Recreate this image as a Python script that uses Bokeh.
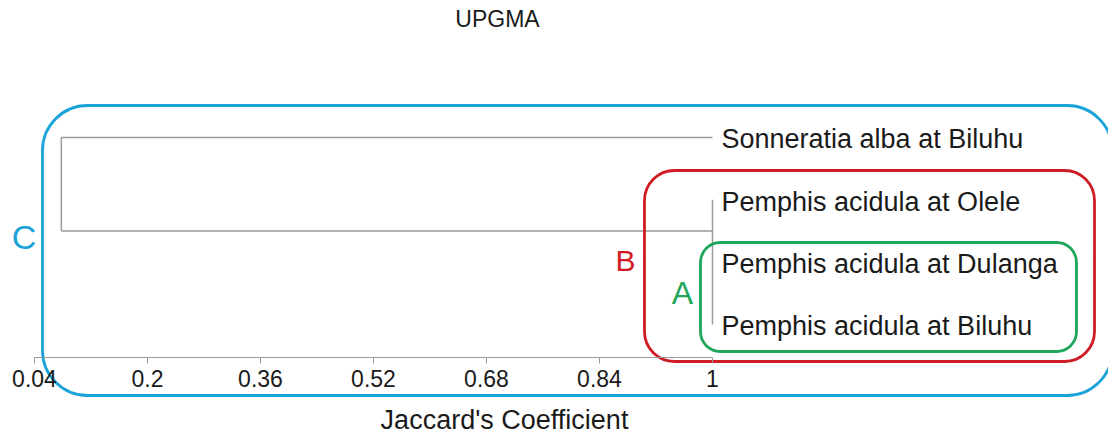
from bokeh.plotting import figure
from bokeh.models import Range1d, LinearAxis, FixedTicker, ColumnDataSource
from bokeh.core.properties import value
from bokeh.embed import file_html
from bokeh.resources import INLINE

# ---- data ----
title_text = "UPGMA"
x_label = "Jaccard's Coefficient"
leaves = ["Sonneratia alba at Biluhu", "Pemphis acidula at Olele",
          "Pemphis acidula at Dulanga", "Pemphis acidula at Biluhu"]
leaf_pos = [4, 3, 2, 1]               # leaf order (top to bottom)
leaf_sim = [1.0, 1.0, 1.0, 1.0]       # a leaf's similarity with itself
pemphis_sim = 1.0                     # Olele / Dulanga / Biluhu join at 1
pemphis_node = 2.5
root_sim = 0.078                      # Sonneratia joins Pemphis
ticks = [0.04, 0.2, 0.36, 0.52, 0.68, 0.84, 1.0]
tick_labels = ["0.04", "0.2", "0.36", "0.52", "0.68", "0.84", "1"]
groups = ["C", "B", "A"]
group_colors = ["#1aa3d8", "#cf1b24", "#1fa65a"]

FONT = value("Liberation Sans")
LINE = "#9a9a9a"

p = figure(width=1108, height=441, output_backend="svg", toolbar_location=None,
           x_range=Range1d(-0.00814, 1.56072), y_range=Range1d(-0.8796, 6.199),
           x_axis_location=None, y_axis_location=None, min_border=0,
           outline_line_color=None)
p.grid.visible = False
p.background_fill_color = "white"
p.border_fill_color = "white"

# ---- dendrogram ----
xs0 = [leaf_sim[0], root_sim, root_sim, pemphis_sim]
xs1 = [root_sim, root_sim, pemphis_sim, pemphis_sim]
ys0 = [leaf_pos[0], leaf_pos[0], pemphis_node, leaf_pos[1]]
ys1 = [leaf_pos[0], pemphis_node, pemphis_node, leaf_pos[3]]
p.segment(x0=xs0, y0=ys0, x1=xs1, y1=ys1, line_color=LINE, line_width=1.5)

# leaf labels
src = ColumnDataSource(dict(x=leaf_sim, y=leaf_pos, t=leaves))
p.text(x="x", y="y", text="t", source=src, x_offset=9, y_offset=2,
       text_font=FONT, text_font_size="27px", text_color="#1a1a1a",
       text_baseline="middle", text_align="left")

# ---- cluster boxes (C, B, A) ----
box_l = [0.0513, 0.9037, 0.983]
box_r = [1.566, 1.5409, 1.5154]
box_t = [4.514, 3.470, 2.3146]
box_b = [-0.141, 0.4045, 0.565]
radii = [45, 30, 20]
for i in range(3):
    p.quad(left=box_l[i], right=box_r[i], top=box_t[i], bottom=box_b[i],
           fill_color=None, line_color=group_colors[i], line_width=2.8,
           border_radius=radii[i])

gx = [0.0251, 0.8768, 0.9575]
gy = [2.395, 2.026, 1.496]
gsize = ["34px", "30px", "32px"]
for i in range(3):
    p.text(x=[gx[i]], y=[gy[i]], text=[groups[i]], text_font=FONT,
           text_font_size=gsize[i], text_color=group_colors[i],
           text_align="center", text_baseline="middle")

# title
p.text(x=[0.6956], y=[5.91], text=[title_text], text_font=FONT,
       text_font_size="23px", text_color="#1a1a1a",
       text_align="center", text_baseline="middle")

# x-axis title (centred where the reference has it)
p.text(x=[0.7055], y=[-0.53], text=[x_label], text_font=FONT,
       text_font_size="27px", text_color="#1a1a1a",
       text_align="center", text_baseline="middle")

# ---- axis ----
ax = LinearAxis(fixed_location=0.4687, ticker=FixedTicker(ticks=ticks),
                major_label_overrides={t: l for t, l in zip(ticks, tick_labels)},
                bounds=(ticks[0], ticks[-1]))
ax.axis_line_color = LINE
ax.axis_line_width = 1.2
ax.major_tick_line_color = LINE
ax.major_tick_out = 6
ax.major_tick_in = 0
ax.minor_tick_line_color = None
ax.major_label_text_font = "Liberation Sans"
ax.major_label_text_font_size = "23px"
ax.major_label_text_color = "#1a1a1a"
ax.major_label_standoff = 6
p.add_layout(ax, "below")

open("out.html", "w").write(file_html(p, INLINE))
